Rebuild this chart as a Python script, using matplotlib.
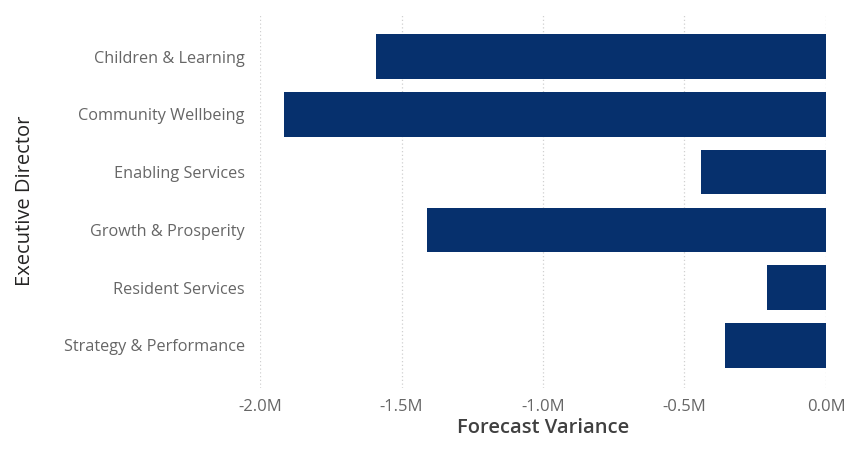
import matplotlib.pyplot as plt
import matplotlib.ticker as mticker

directors = ["Children & Learning", "Community Wellbeing", "Enabling Services",
             "Growth & Prosperity", "Resident Services", "Strategy & Performance"]
variance_m = [-1.59, -1.915, -0.44, -1.41, -0.21, -0.357]
x_ticks = [-2.0, -1.5, -1.0, -0.5, 0.0]

bar_color = "#06306D"

fig = plt.figure(figsize=(8.51, 4.54), dpi=100)
W, H = 851, 454
# axes box in pixels: left, top, right, bottom
l, t, r, b = 260, 14, 826, 388
ax = fig.add_axes([l / W, 1 - b / H, (r - l) / W, (b - t) / H])

ax.barh(range(len(directors)), variance_m, height=0.77, color=bar_color, zorder=3)

ax.set_xlim(-2.0, 0.0)
ax.set_ylim(5.74, -0.74)
ax.set_xticks(x_ticks)
ax.xaxis.set_major_formatter(mticker.FuncFormatter(lambda v, p: f"{v:.1f}M"))
ax.set_yticks(range(len(directors)))
ax.set_yticklabels(directors)

for s in ax.spines.values():
    s.set_visible(False)
ax.tick_params(axis="y", length=0, colors="#666666", labelsize=11.7, pad=11)
ax.tick_params(axis="x", length=0, colors="#666666", labelsize=12, pad=8)
for lab in ax.get_xticklabels() + ax.get_yticklabels():
    lab.set_fontfamily("Open Sans")
    lab.set_color("#666666")

ax.grid(axis="x", color="#D0D0D0", linestyle=(0, (1, 2)), linewidth=0.9, zorder=0)
ax.grid(axis="y", visible=False)

ax.set_xlabel("Forecast Variance", fontsize=14.5, color="#404040",
              fontfamily="Open Sans", fontweight="semibold", labelpad=2)
fig.text(25 / W, 1 - 201 / H, "Executive Director", rotation=90, fontsize=14.5,
         color="#252423", fontfamily="Open Sans", ha="center", va="center")

fig.savefig("out.png", dpi=100)
